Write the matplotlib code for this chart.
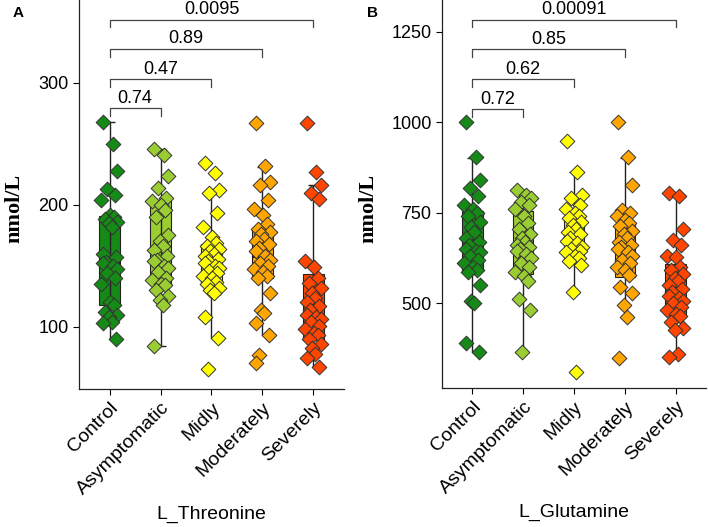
import matplotlib
matplotlib.use('Agg')
import matplotlib.pyplot as plt
import numpy as np

plt.rcParams['font.family'] = ['Liberation Sans', 'DejaVu Sans']

groups = ['Control', 'Asymptomatic', 'Midly', 'Moderately', 'Severely']
colors = ['#168a16', '#9acd32', '#ffff00', '#ffa500', '#ff4500']

# ---- L_Threonine (panel A) ----
thr_control = [268, 250, 228, 213, 208, 204, 192, 190, 188, 186, 185, 182, 160, 157,
               153, 152, 150, 147, 144, 140, 135, 120, 118, 112, 110, 108, 104, 103, 90]
thr_asym = [246, 241, 224, 214, 206, 203, 200, 196, 190, 175, 170, 166, 163, 158,
            155, 154, 150, 148, 145, 140, 138, 135, 134, 130, 125, 122, 118, 84]
thr_midly = [234, 226, 212, 210, 193, 182, 174, 169, 166, 164, 162, 160, 158, 156, 154,
             152, 150, 148, 146, 144, 142, 140, 137, 135, 132, 130, 128, 108, 91, 65]
thr_moder = [267, 232, 219, 216, 204, 197, 192, 184, 180, 178, 176, 172, 170, 168, 165, 162,
             158, 155, 152, 150, 147, 145, 142, 140, 128, 114, 111, 103, 93, 77, 70]
thr_severe = [267, 227, 216, 210, 205, 154, 149, 140, 136, 132, 128, 124, 120, 117, 114,
              110, 108, 106, 104, 101, 98, 95, 93, 90, 86, 83, 78, 74, 67]
thr_whislo = [90, 84, 91, 93, 67]
thr_q1 = [118, 135, 134, 140, 89]
thr_med = [152, 155, 152, 157, 107]
thr_q3 = [191, 203, 168, 181, 143]
thr_whishi = [268, 246, 211, 231, 216]
thr_pvals = ['0.74', '0.47', '0.89', '0.0095']
thr_bracket_y = [279.5, 303, 328, 352]

# ---- L_Glutamine (panel B) ----
glu_control = [1001, 905, 840, 818, 795, 770, 760, 750, 740, 725, 710, 695, 680, 670, 660,
               650, 645, 640, 630, 620, 610, 600, 590, 585, 550, 505, 500, 390, 365]
glu_asym = [812, 800, 790, 780, 770, 760, 740, 720, 705, 690, 680, 670, 660, 655, 650,
            645, 635, 625, 610, 600, 585, 575, 560, 510, 480, 365]
glu_midly = [948, 862, 800, 790, 770, 760, 750, 740, 735, 725, 715, 705, 695, 690, 680,
             672, 665, 655, 650, 645, 640, 630, 625, 615, 605, 530, 310]
glu_moder = [1000, 905, 826, 757, 750, 740, 730, 720, 712, 700, 690, 680, 670, 660, 655,
             650, 640, 630, 620, 610, 600, 590, 578, 545, 527, 495, 460, 347]
glu_severe = [803, 797, 706, 674, 660, 630, 628, 600, 590, 580, 570, 560, 550, 540, 530,
              520, 515, 505, 500, 490, 480, 470, 465, 448, 430, 425, 360, 352]
glu_whislo = [365, 365, 530, 460, 356]
glu_q1 = [589, 580, 622, 573, 467]
glu_med = [646, 651, 662, 655, 517]
glu_q3 = [755, 755, 736, 715, 607]
glu_whishi = [902, 812, 863, 902, 800]
glu_pvals = ['0.72', '0.62', '0.85', '0.00091']
glu_bracket_y = [1036, 1119, 1202, 1284]

jitter = [-0.13, 0.06, 0.15, -0.05, 0.11, -0.16, 0.01, 0.09, -0.09, 0.14, -0.02, 0.04, -0.12, 0.12, -0.07]


def draw_panel(ax, points, lo, q1, med, q3, hi, pvals, bracket_y, ylim, yticks, tick_h, xlabel):
    pos = np.arange(1, len(groups) + 1)
    # whisker line (errorbar style) behind the box
    ax.vlines(pos, lo, hi, color='#222222', lw=1.0, zorder=1)
    ax.hlines(lo, pos, pos + 0.1, color='#222222', lw=1.0, zorder=1)
    ax.hlines(hi, pos - 0.1, pos + 0.1, color='#222222', lw=1.0, zorder=1)
    stats = [dict(whislo=a, q1=b, med=c, q3=d, whishi=e, fliers=[])
             for a, b, c, d, e in zip(lo, q1, med, q3, hi)]
    bp = ax.bxp(stats, positions=pos, widths=0.4, showfliers=False, showcaps=False,
                patch_artist=True,
                boxprops=dict(edgecolor='#222222', linewidth=0.8),
                whiskerprops=dict(linewidth=0),
                medianprops=dict(color='#111111', linewidth=1.3))
    for patch, col in zip(bp['boxes'], colors):
        patch.set_facecolor(col)
        patch.set_zorder(2)
    ax.vlines(pos, q1, q3, color='#222222', lw=1.0, zorder=2.5)
    for i, vals in enumerate(points):
        xs = pos[i] + np.resize(jitter, len(vals))
        ax.scatter(xs, vals, marker='D', s=56, color=colors[i], edgecolor='#333333',
                   linewidth=0.7, zorder=3)
    # significance brackets vs Control
    for k, (p, yb) in enumerate(zip(pvals, bracket_y)):
        x2 = pos[k + 1]
        ax.plot([pos[0], pos[0], x2, x2], [yb - tick_h, yb, yb, yb - tick_h],
                color='#444444', lw=0.9)
        ax.annotate(p, xy=((pos[0] + x2) / 2, yb), xytext=(0, 1), textcoords='offset points',
                    ha='center', va='bottom', fontsize=13)
    ax.set_xlim(0.4, 5.6)
    ax.set_ylim(*ylim)
    ax.set_yticks(yticks)
    ax.set_xticks(pos)
    ax.set_xticklabels(groups, rotation=45, ha='right', rotation_mode='anchor', fontsize=14)
    ax.tick_params(axis='y', labelsize=13, length=4, width=0.8)
    ax.tick_params(axis='x', length=4, width=0.8)
    for s in ['top', 'right']:
        ax.spines[s].set_visible(False)
    for s in ['left', 'bottom']:
        ax.spines[s].set_linewidth(0.9)
        ax.spines[s].set_color('#222222')
    ax.set_xlabel(xlabel, fontsize=14)
    ax.xaxis.set_label_coords(0.5, -(514 - 389) / 389)


fig = plt.figure(figsize=(7.08, 5.27), dpi=100)
axA = fig.add_axes([0.1116, 0.2619, 0.3742, 0.7381])
axB = fig.add_axes([0.6243, 0.2638, 0.3729, 0.7362])

draw_panel(axA, [thr_control, thr_asym, thr_midly, thr_moder, thr_severe],
           thr_whislo, thr_q1, thr_med, thr_q3, thr_whishi, thr_pvals, thr_bracket_y,
           (49, 368), [100, 200, 300], 6.5, 'L_Threonine')
draw_panel(axB, [glu_control, glu_asym, glu_midly, glu_moder, glu_severe],
           glu_whislo, glu_q1, glu_med, glu_q3, glu_whishi, glu_pvals, glu_bracket_y,
           (265, 1338), [500, 750, 1000, 1250], 22, 'L_Glutamine')
for ax in (axA, axB):
    ax.xaxis.label.set_verticalalignment('center')

for x in [14 / 708, 368 / 708]:
    fig.text(x, 1 - 208 / 527, 'nmol/L', rotation=90, ha='center', va='center',
             fontsize=16, fontweight='bold', family='Liberation Serif')
fig.text(18 / 708, 1 - 13 / 527, 'A', ha='center', va='center', fontsize=11, fontweight='bold')
fig.text(372 / 708, 1 - 13 / 527, 'B', ha='center', va='center', fontsize=11, fontweight='bold')

fig.savefig('out.png', dpi=100)
